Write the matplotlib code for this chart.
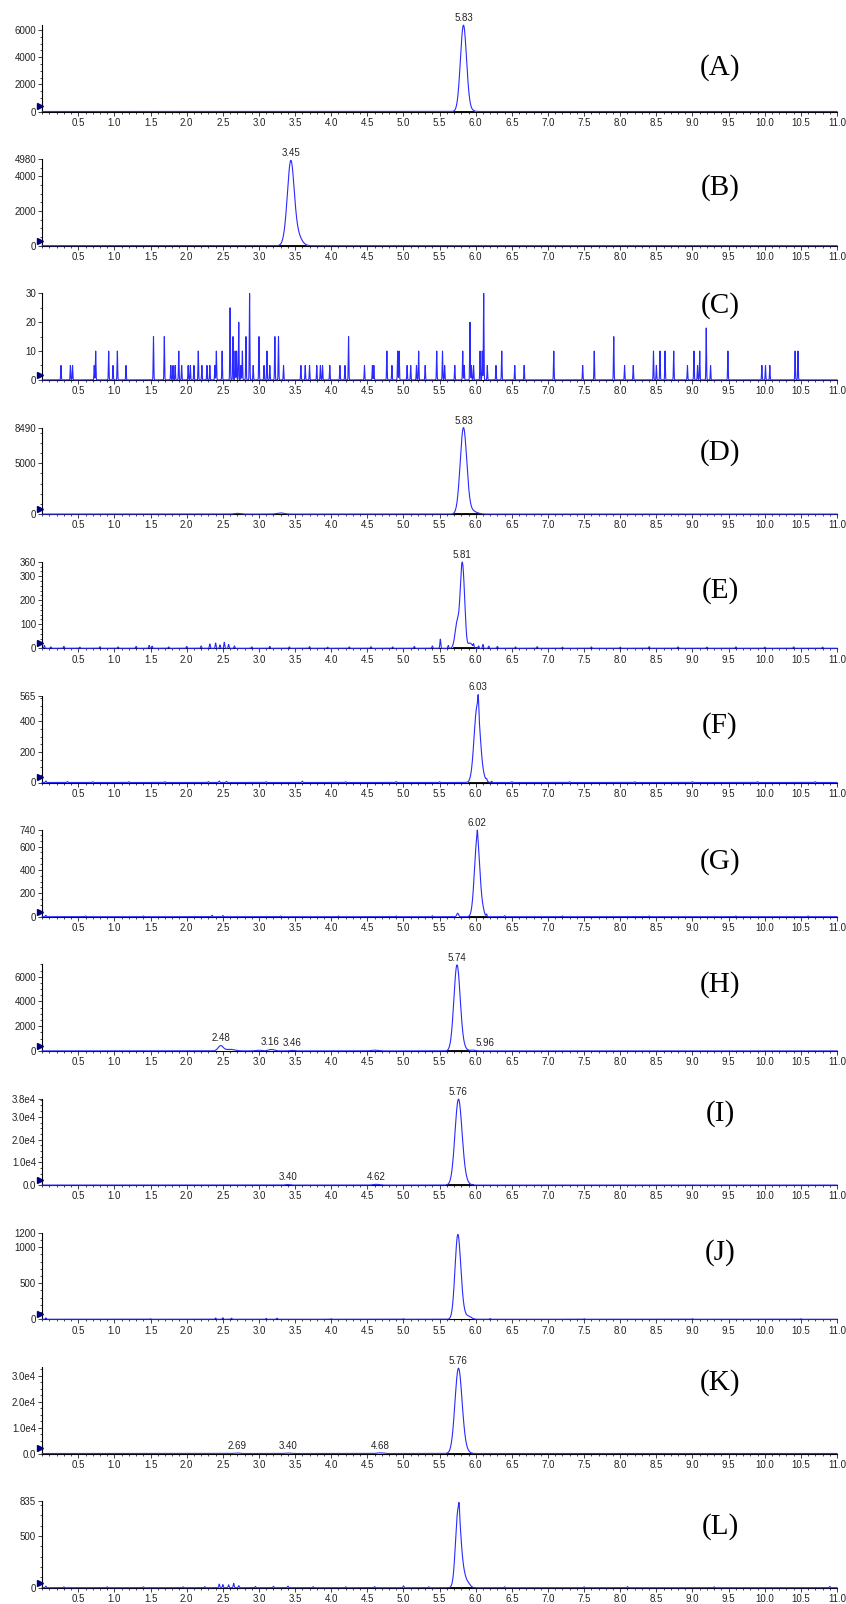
import numpy as np
import matplotlib
matplotlib.use('Agg')
import matplotlib.pyplot as plt
from matplotlib.ticker import MultipleLocator

plt.rcParams['font.family'] = ['Liberation Sans', 'DejaVu Sans']

# retention-time peaks per panel: (rt min, height, sigma)
peaks_A = [(5.83, 6300, 0.042), (5.90, 150, 0.05)]
peaks_B = [(3.44, 4560, 0.045), (3.52, 700, 0.06), (3.37, 300, 0.04)]
peaks_D = [(5.83, 8360, 0.045), (5.93, 350, 0.07), (2.70, 70, 0.04), (3.30, 110, 0.05)]
peaks_E = [(5.745, 110, 0.03), (5.81, 325, 0.025), (5.845, 100, 0.02), (5.92, 22, 0.03)]
peaks_F = [(6.02, 500, 0.042), (6.035, 100, 0.007), (6.11, 20, 0.035)]
peaks_G = [(6.02, 672, 0.037), (6.022, 70, 0.006), (6.10, 35, 0.02), (5.75, 30, 0.012)]
peaks_H = [(5.74, 6760, 0.043), (5.80, 400, 0.05), (5.96, 60, 0.03), (2.47, 420, 0.035),
           (2.60, 130, 0.06), (3.17, 110, 0.04), (3.46, 40, 0.03), (3.00, 50, 0.04), (4.60, 60, 0.04)]
peaks_I = [(5.76, 36800, 0.048), (5.83, 2500, 0.05), (3.40, 250, 0.03), (4.62, 350, 0.04)]
peaks_J = [(5.75, 1100, 0.038), (5.80, 160, 0.04), (5.90, 40, 0.04)]
peaks_K = [(5.76, 32000, 0.048), (5.83, 2200, 0.05), (2.69, 200, 0.03), (3.40, 200, 0.03), (4.68, 250, 0.04)]
peaks_L = [(5.755, 720, 0.035), (5.77, 90, 0.007), (5.82, 150, 0.04), (5.90, 30, 0.03)]

# blank panel (C): single-scan spikes (rt, counts)
spikes_C = [(0.26, 5), (0.39, 5), (0.42, 5), (0.72, 5), (0.74, 10), (0.92, 10), (0.98, 5), (1.04, 10),
            (1.16, 5), (1.54, 15), (1.69, 15), (1.78, 5), (1.81, 5), (1.84, 5), (1.89, 10), (1.93, 5),
            (2.02, 5), (2.05, 5), (2.10, 5), (2.16, 10), (2.21, 5), (2.28, 5), (2.32, 5), (2.39, 5),
            (2.41, 10), (2.49, 10), (2.60, 25), (2.64, 15), (2.67, 10), (2.69, 10), (2.72, 20), (2.75, 5),
            (2.77, 10), (2.82, 15), (2.87, 30), (2.92, 5), (3.00, 15), (3.07, 5), (3.11, 10), (3.15, 5),
            (3.22, 15), (3.27, 15), (3.34, 5), (3.58, 5), (3.64, 5), (3.70, 5), (3.80, 5), (3.85, 5),
            (3.88, 5), (3.98, 5), (4.12, 5), (4.19, 5), (4.24, 15), (4.46, 5), (4.57, 5), (4.59, 5),
            (4.77, 10), (4.84, 5), (4.92, 10), (4.94, 10), (5.05, 5), (5.10, 5), (5.18, 5), (5.21, 10),
            (5.30, 5), (5.46, 10), (5.54, 10), (5.57, 5), (5.71, 5), (5.82, 10), (5.84, 5), (5.92, 20),
            (5.94, 5), (5.97, 5), (6.06, 10), (6.09, 10), (6.11, 30), (6.16, 5), (6.28, 5), (6.36, 10),
            (6.54, 5), (6.67, 5), (7.08, 10), (7.48, 5), (7.64, 10), (7.91, 15), (8.06, 5), (8.18, 5),
            (8.46, 10), (8.50, 5), (8.55, 10), (8.62, 10), (8.74, 10), (8.93, 5), (9.02, 10), (9.07, 5),
            (9.10, 10), (9.19, 18), (9.25, 5), (9.49, 10), (9.96, 5), (10.01, 5), (10.07, 5), (10.42, 10),
            (10.46, 10)]

# baseline noise blips (rt, counts)
noise_E = [(0.03, 12), (0.12, 6), (0.30, 8), (0.52, 5), (0.80, 7), (1.05, 6), (1.30, 8), (1.48, 12),
           (1.52, 9), (1.75, 6), (2.00, 8), (2.20, 10), (2.32, 18), (2.40, 22), (2.46, 14), (2.52, 25),
           (2.58, 16), (2.66, 10), (2.90, 6), (3.15, 8), (3.42, 6), (3.70, 7), (3.95, 5), (4.25, 6),
           (4.55, 7), (4.85, 6), (5.15, 8), (5.40, 10), (5.51, 38), (5.62, 12), (5.97, 14), (6.04, 10),
           (6.10, 16), (6.18, 9), (6.30, 8), (6.55, 6), (6.85, 7), (7.20, 5), (7.60, 6), (8.00, 5),
           (8.40, 7), (8.80, 6), (9.20, 5), (9.60, 6), (10.00, 5), (10.40, 6), (10.80, 5)]
noise_F = [(0.05, 10), (0.35, 6), (0.70, 5), (1.20, 5), (1.70, 5), (2.30, 6), (2.45, 10), (2.55, 8),
           (3.10, 5), (3.60, 9), (4.20, 5), (4.90, 6), (5.50, 5), (6.15, 12), (6.22, 8), (6.50, 5),
           (7.30, 5), (8.20, 5), (9.00, 5), (9.90, 5), (10.70, 5)]
noise_G = [(0.05, 12), (0.60, 6), (1.40, 6), (2.35, 12), (2.50, 10), (3.30, 6), (4.10, 6), (4.90, 6),
           (5.40, 8), (6.15, 20), (6.40, 8), (7.20, 6), (8.40, 6), (9.60, 6), (10.60, 6)]
noise_J = [(0.05, 20), (1.50, 8), (2.40, 18), (2.50, 22), (2.62, 15), (3.10, 12), (3.25, 15), (4.00, 8),
           (5.00, 8), (6.20, 10), (7.50, 8), (9.00, 8), (10.50, 8)]
noise_L = [(0.05, 15), (0.30, 8), (0.90, 8), (1.40, 8), (1.95, 8), (2.25, 10), (2.45, 35), (2.50, 30),
           (2.58, 28), (2.65, 42), (2.72, 20), (2.95, 12), (3.20, 14), (3.40, 15), (3.75, 10), (4.20, 8),
           (4.60, 10), (5.00, 18), (5.35, 8), (6.40, 8), (7.50, 8), (8.10, 10), (9.30, 8), (10.90, 12)]

panel_names = ['A', 'B', 'C', 'D', 'E', 'F', 'G', 'H', 'I', 'J', 'K', 'L']
panel_peaks = [peaks_A, peaks_B, [], peaks_D, peaks_E, peaks_F, peaks_G, peaks_H, peaks_I, peaks_J, peaks_K, peaks_L]
panel_noise = [[], [], [], [], noise_E, noise_F, noise_G, [], [], noise_J, [], noise_L]

y_max = [6370, 4980, 30, 8490, 360, 565, 740, 7000, 38000, 1200, 33300, 835]
y_ticks = [[0, 2000, 4000, 6000], [0, 2000, 4000, 4980], [0, 10, 20, 30], [0, 5000, 8490],
           [0, 100, 200, 300, 360], [0, 200, 400, 565], [0, 200, 400, 600, 740], [0, 2000, 4000, 6000],
           [0, 1e4, 2e4, 3e4, 3.8e4], [0, 500, 1000, 1200], [0, 1e4, 2e4, 3e4], [0, 500, 835]]
y_tick_labels = [['0', '2000', '4000', '6000'], ['0', '2000', '4000', '4980'], ['0', '10', '20', '30'],
                 ['0', '5000', '8490'], ['0', '100', '200', '300', '360'], ['0', '200', '400', '565'],
                 ['0', '200', '400', '600', '740'], ['0', '2000', '4000', '6000'],
                 ['0.0', '1.0e4', '2.0e4', '3.0e4', '3.8e4'], ['0', '500', '1000', '1200'],
                 ['0.0', '1.0e4', '2.0e4', '3.0e4'], ['0', '500', '835']]
y_minor = [500, 500, 5, 1000, 20, 50, 50, 500, 2500, 100, 2500, 100]

# labelled retention times (rt, label x shift)
peak_labels = [[(5.83, 0)], [(3.45, 0)], [], [(5.83, 0)], [(5.81, 0)], [(6.03, 0)], [(6.02, 0)],
               [(2.48, 0), (3.16, 0), (3.46, 0), (5.74, 0), (5.96, 0.17)],
               [(3.40, 0), (4.62, 0), (5.76, 0)], [], [(2.69, 0), (3.40, 0), (4.68, 0), (5.76, 0)], []]
int_base = [(5.70, 5.98), (3.25, 3.65), None, (5.70, 6.05), (5.70, 6.03), (5.90, 6.27), (5.90, 6.16),
            (5.62, 5.90), (5.60, 5.96), None, (5.60, 5.96), (5.62, 5.99)]
name_y_px = [68, 188, 306, 453, 591, 726, 862, 985, 1114, 1253, 1383, 1527]

t = np.linspace(0, 11, 11001)

W, H = 846, 1604
left_px, right_px = 42.2, 837
base0, step, ax_h = 111.5, 134.2, 86.5
line_color = '#2a2aff'

fig = plt.figure(figsize=(W / 100, H / 100), dpi=100)

for i, name in enumerate(panel_names):
    y = np.zeros_like(t)
    for rt, h, w in panel_peaks[i]:
        y += h * np.exp(-0.5 * ((t - rt) / w) ** 2)
    for rt, h in panel_noise[i]:
        y += h * np.exp(-0.5 * ((t - rt) / 0.006) ** 2)
    if name == 'C':
        for rt, h in spikes_C:
            y += h * np.exp(-0.5 * ((t - rt) / 0.004) ** 2)

    base = base0 + i * step
    ax = fig.add_axes([left_px / W, 1 - base / H, (right_px - left_px) / W, ax_h / H])

    seg = int_base[i]
    if seg is not None:
        ax.plot(seg, [0, 0], color='black', lw=1.3, zorder=2, clip_on=False)
    ax.plot(t, y, color=line_color, lw=0.8, zorder=3, clip_on=False)
    ax.plot(-0.03, y_max[i] * 0.06, marker='>', color='#00007a', ms=4, clip_on=False, zorder=4)

    for rt, dx in peak_labels[i]:
        win = (t > rt - 0.03) & (t < rt + 0.03)
        ax.annotate(f'{rt:.2f}', (rt + dx, y[win].max()), xytext=(0, 1.5), textcoords='offset points',
                    ha='center', va='bottom', fontsize=7, color='#222222', annotation_clip=False)

    ax.set_xlim(0, 11)
    ax.set_ylim(0, y_max[i])
    xt = np.arange(0.5, 11.01, 0.5)
    ax.set_xticks(xt)
    ax.set_xticklabels([f'{v:.1f}' for v in xt])
    ax.xaxis.set_minor_locator(MultipleLocator(0.1))
    ax.set_yticks(y_ticks[i])
    ax.set_yticklabels(y_tick_labels[i])
    ax.yaxis.set_minor_locator(MultipleLocator(y_minor[i]))

    for s in ['top', 'right']:
        ax.spines[s].set_visible(False)
    for s in ['left', 'bottom']:
        ax.spines[s].set_linewidth(0.8)
    ax.tick_params(which='major', direction='out', length=3, width=0.6, labelsize=7,
                   pad=1.5, colors='#222222')
    ax.tick_params(which='minor', direction='out', length=1.5, width=0.5)
    ax.patch.set_alpha(0)

    fig.text(720 / W, 1 - name_y_px[i] / H, f'({name})', ha='center', va='center',
             fontsize=21, family=['Liberation Serif', 'DejaVu Serif'])

fig.savefig('out.png', dpi=100)
